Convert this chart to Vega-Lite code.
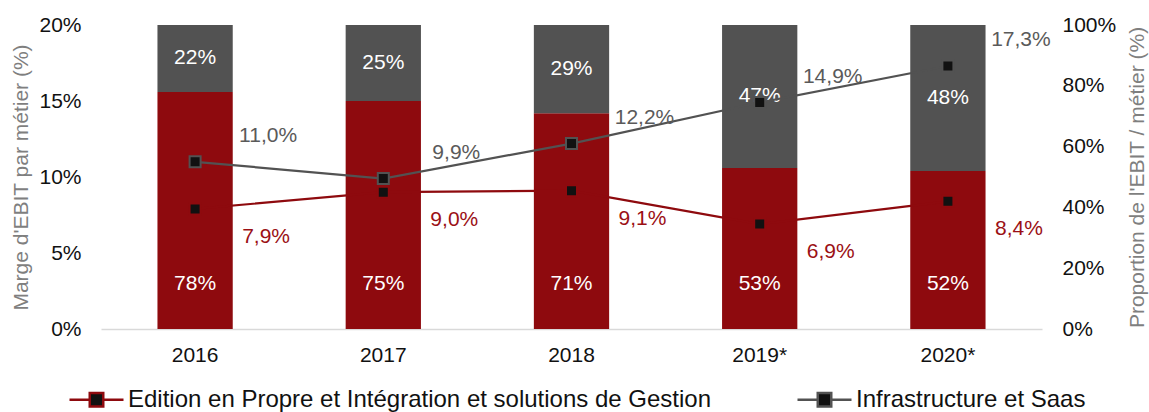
{
  "$schema": "https://vega.github.io/schema/vega-lite/v6.json",
  "autosize": {"type": "none"},
  "width": 941,
  "height": 304,
  "padding": {"left": 101, "top": 25, "right": 107, "bottom": 83},
  "background": "white",
  "config": {
    "font": "Liberation Sans",
    "view": {"stroke": null}
  },
  "data": {
    "values": [
      {"annee": "2016", "metier": "Edition en Propre et Intégration et solutions de Gestion", "marge": 7.9, "part": 78},
      {"annee": "2017", "metier": "Edition en Propre et Intégration et solutions de Gestion", "marge": 9.0, "part": 75},
      {"annee": "2018", "metier": "Edition en Propre et Intégration et solutions de Gestion", "marge": 9.1, "part": 71},
      {"annee": "2019*", "metier": "Edition en Propre et Intégration et solutions de Gestion", "marge": 6.9, "part": 53},
      {"annee": "2020*", "metier": "Edition en Propre et Intégration et solutions de Gestion", "marge": 8.4, "part": 52},
      {"annee": "2016", "metier": "Infrastructure et Saas", "marge": 11.0, "part": 22},
      {"annee": "2017", "metier": "Infrastructure et Saas", "marge": 9.9, "part": 25},
      {"annee": "2018", "metier": "Infrastructure et Saas", "marge": 12.2, "part": 29},
      {"annee": "2019*", "metier": "Infrastructure et Saas", "marge": 14.9, "part": 47},
      {"annee": "2020*", "metier": "Infrastructure et Saas", "marge": 17.3, "part": 48}
    ]
  },
  "encoding": {
    "x": {
      "field": "annee", "type": "nominal", "sort": null,
      "scale": {"paddingInner": 0.6, "paddingOuter": 0.3},
      "axis": {"title": null, "labelAngle": 0, "labelFontSize": 21, "labelColor": "#111", "labelPadding": 15, "ticks": false, "domainColor": "#d9d9d9", "domainWidth": 1.5}
    }
  },
  "layer": [
    {
      "encoding": {
        "y": {
          "type": "quantitative",
          "scale": {"domain": [0, 100], "nice": false},
          "axis": {"orient": "right", "title": "Proportion de l'EBIT / métier (%)", "titleAngle": -90, "titleBaseline": "top", "titleFontSize": 21, "titleFontWeight": "normal", "titleColor": "#7f7f7f", "titlePadding": 11, "values": [0, 20, 40, 60, 80, 100], "labelExpr": "datum.value + '%'", "labelFontSize": 21, "labelColor": "#111", "labelPadding": 20, "ticks": false, "domain": false, "grid": false}
        }
      },
      "layer": [
        {
          "mark": {"type": "bar"},
          "encoding": {
            "y": {"field": "part", "type": "quantitative", "stack": "zero"},
            "order": {"field": "metier", "sort": "ascending"},
            "fill": {
              "field": "metier", "type": "nominal",
              "scale": {"range": ["#8E0A0E", "#525252"]},
              "legend": null
            }
          }
        },
        {
          "transform": [
            {"stack": "part", "groupby": ["annee"], "sort": [{"field": "metier"}], "as": ["p0", "p1"]},
            {"calculate": "(datum.p0 + datum.p1) / 2", "as": "mid"},
            {"calculate": "datum.part + '%'", "as": "lbl"},
            {"filter": "datum.metier == 'Infrastructure et Saas'"}
          ],
          "mark": {"type": "text", "color": "white", "fontSize": 21, "baseline": "middle"},
          "encoding": {
            "y": {"field": "mid", "type": "quantitative"},
            "text": {"field": "lbl"}
          }
        },
        {
          "transform": [
            {"calculate": "datum.part + '%'", "as": "lbl"},
            {"filter": "datum.metier != 'Infrastructure et Saas'"}
          ],
          "mark": {"type": "text", "color": "white", "fontSize": 21, "baseline": "middle", "dy": -45},
          "encoding": {
            "y": {"datum": 0, "type": "quantitative"},
            "text": {"field": "lbl"}
          }
        }
      ]
    },
    {
      "encoding": {
        "y": {
          "field": "marge", "type": "quantitative",
          "scale": {"domain": [0, 20], "nice": false},
          "axis": {"orient": "left", "title": "Marge d'EBIT par métier (%)", "titleFontSize": 21, "titleFontWeight": "normal", "titleColor": "#7f7f7f", "titlePadding": 7, "values": [0, 5, 10, 15, 20], "labelExpr": "datum.value + '%'", "labelFontSize": 21, "labelColor": "#111", "labelPadding": 20, "ticks": false, "domain": false, "grid": false}
        }
      },
      "layer": [
        {
          "mark": {"type": "line", "strokeWidth": 2.2},
          "encoding": {
            "stroke": {
              "field": "metier", "type": "nominal",
              "scale": {"domain": ["Edition en Propre et Intégration et solutions de Gestion", "Infrastructure et Saas"], "range": ["#8E0A0E", "#525252"]},
              "legend": {
                "orient": "none", "legendX": -33, "legendY": 346, "direction": "horizontal",
                "title": null, "labelFontSize": 24, "labelColor": "#111", "labelLimit": 900,
                "symbolType": "M-1,0H-0.25M0.25,0H1M-0.25,-0.25H0.25V0.25H-0.25Z",
                "symbolSize": 2916, "symbolStrokeWidth": 2.5, "labelOffset": 3, "columnPadding": 80,
                "encode": {"symbols": {"update": {"fill": {"value": "#111"}, "fillOpacity": {"value": 1}, "strokeWidth": {"value": 2.5}}}}
              }
            }
          }
        },
        {
          "mark": {"type": "point", "shape": "square", "filled": true, "fill": "#111", "size": 121, "strokeWidth": 2, "opacity": 1},
          "encoding": {
            "stroke": {
              "field": "metier", "type": "nominal",
              "scale": {"domain": ["Edition en Propre et Intégration et solutions de Gestion", "Infrastructure et Saas"], "range": ["#8E0A0E", "#525252"]},
              "legend": {
                "orient": "none", "legendX": -33, "legendY": 346, "direction": "horizontal",
                "title": null, "labelFontSize": 24, "labelColor": "#111", "labelLimit": 900,
                "symbolType": "M-1,0H-0.25M0.25,0H1M-0.25,-0.25H0.25V0.25H-0.25Z",
                "symbolSize": 2916, "symbolStrokeWidth": 2.5, "labelOffset": 3, "columnPadding": 80,
                "encode": {"symbols": {"update": {"fill": {"value": "#111"}, "fillOpacity": {"value": 1}, "strokeWidth": {"value": 2.5}}}}
              }
            }
          }
        },
        {
          "transform": [
            {"calculate": "replace(format(datum.marge, '.1f'), '.', ',') + '%'", "as": "lbl"},
            {"filter": "datum.metier == 'Infrastructure et Saas'"}
          ],
          "mark": {"type": "text", "fontSize": 21, "color": "#5a5a5a", "dx": 73, "dy": -26, "baseline": "middle"},
          "encoding": {"text": {"field": "lbl"}}
        },
        {
          "transform": [
            {"calculate": "replace(format(datum.marge, '.1f'), '.', ',') + '%'", "as": "lbl"},
            {"filter": "datum.metier != 'Infrastructure et Saas'"}
          ],
          "mark": {"type": "text", "fontSize": 21, "color": "#9b1015", "dx": 71, "dy": 28, "baseline": "middle"},
          "encoding": {"text": {"field": "lbl"}}
        }
      ]
    }
  ],
  "resolve": {"scale": {"y": "independent"}}
}
